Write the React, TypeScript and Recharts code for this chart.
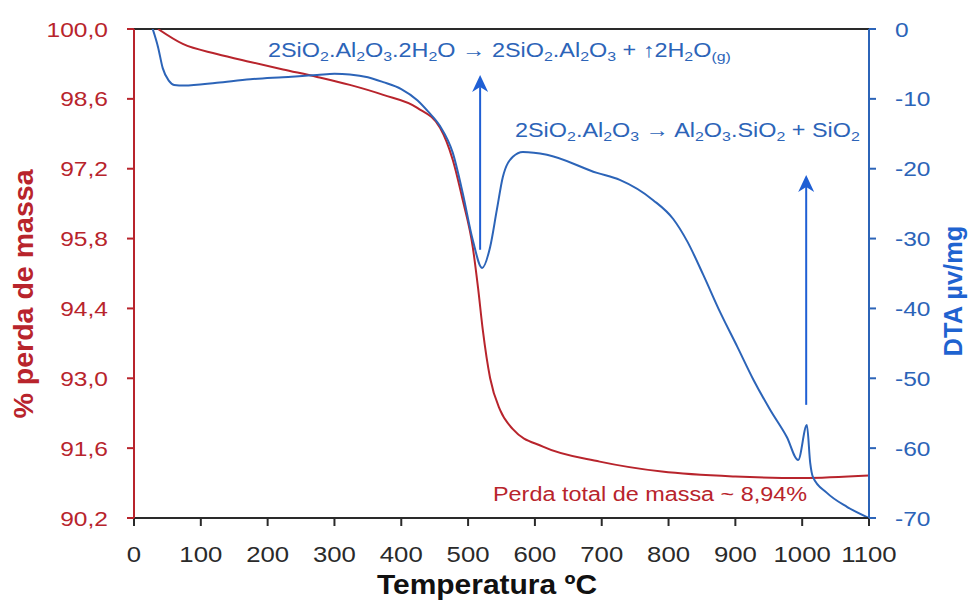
import React from "react";
import { ComposedChart, Line, XAxis, YAxis, ReferenceLine } from "recharts";

const RED = "#b8242c";
const BLUE = "#2c64b8";
const ARROW = "#1f5fd4";
const DARK = "#2a2a2a";
const SX = 1.17; // the original figure's lettering is a bit wide

const tempTicks = [0, 100, 200, 300, 400, 500, 600, 700, 800, 900, 1000, 1100];
const massTicks = [90.2, 91.6, 93.0, 94.4, 95.8, 97.2, 98.6, 100.0];
const dtaTicks = [-70, -60, -50, -40, -30, -20, -10, 0];

// TG curve: % mass vs temperature
const tgTemp = [36, 73, 124, 174, 223, 274, 323, 373, 424, 458, 477, 492, 507, 515, 522, 533, 548, 567, 612, 697, 790, 900, 1000, 1100];
const tgMass = [100.0, 99.7, 99.5, 99.34, 99.19, 99.04, 98.88, 98.68, 98.42, 98.02, 97.38, 96.57, 95.63, 94.8, 93.97, 93.0, 92.36, 91.98, 91.63, 91.33, 91.13, 91.03, 91.0, 91.05];

// DTA curve: µV/mg vs temperature
const dtaTemp = [28, 36, 43, 52, 60, 75, 124, 174, 223, 274, 300, 323, 350, 373, 400, 424, 440, 458, 477, 492, 507, 521, 533, 543, 552, 567, 582, 618, 693, 727, 777, 807, 828, 852, 877, 903, 927, 952, 977, 994, 1007, 1012, 1016, 1037, 1067, 1100];
const dtaSignal = [0, -2.6, -5.6, -7.4, -8.0, -8.1, -7.7, -7.2, -6.9, -6.6, -6.4, -6.5, -6.9, -7.6, -8.6, -10.2, -11.8, -13.9, -17.7, -23.5, -30.2, -34.2, -31.2, -25.9, -21.2, -18.3, -17.6, -18.0, -20.6, -21.6, -24.5, -27.2, -30.4, -35.2, -40.5, -45.5, -50.2, -54.5, -58.4, -61.7, -56.7, -62.1, -64.1, -66.4, -68.4, -70.0];

// annotation arrows (temperature, DTA from, DTA to)
const arrowTemp = [518, 1006];
const arrowFrom = [-31.6, -53.8];
const arrowTo = [-6.6, -20.9];

const tgData = tgTemp.map((t, i) => ({ t, v: tgMass[i] }));
const dtaData = dtaTemp.map((t, i) => ({ t, v: dtaSignal[i] }));

const fmtMass = (v: number) => v.toFixed(1).replace(".", ",");

function MassTick({ x, y, payload }: any) {
  return (
    <g transform={`translate(${x},${y})`}>
      <text transform={`scale(${SX},1)`} textAnchor="end" dy="0.36em" fontSize={21} fill={RED}>
        {fmtMass(payload.value)}
      </text>
    </g>
  );
}

function DtaTick({ x, y, payload }: any) {
  return (
    <g transform={`translate(${x},${y})`}>
      <text transform={`scale(${SX},1)`} textAnchor="start" dy="0.36em" fontSize={21} fill={BLUE}>
        {payload.value}
      </text>
    </g>
  );
}

function TempTick({ x, y, payload }: any) {
  return (
    <g transform={`translate(${x},${y})`}>
      <text transform={`scale(${SX},1)`} textAnchor="middle" dy={36} fontSize={22} fill={DARK}>
        {payload.value}
      </text>
    </g>
  );
}

function Arrow(props: any) {
  const { x1, y1, x2, y2 } = props;
  const x = (x1 + x2) / 2;
  const tip = Math.min(y1, y2);
  const base = Math.max(y1, y2);
  return (
    <g>
      <line x1={x} y1={base} x2={x} y2={tip + 12} stroke={ARROW} strokeWidth={2} />
      <polygon
        points={`${x},${tip} ${x - 8},${tip + 17} ${x},${tip + 12} ${x + 8},${tip + 17}`}
        fill={ARROW}
      />
    </g>
  );
}

const subStyle: React.CSSProperties = { fontSize: "0.68em", verticalAlign: "-0.3em", lineHeight: 0 };

function Note({ left, top, color, children }: any) {
  return (
    <div
      style={{
        position: "absolute",
        left,
        top,
        fontSize: 20,
        lineHeight: "20px",
        color,
        whiteSpace: "nowrap",
        transform: `scaleX(${SX})`,
        transformOrigin: "left center",
      }}
    >
      {children}
    </div>
  );
}

function Title({ cx, cy, color, rotate, size, stretch, children }: any) {
  return (
    <div
      style={{
        position: "absolute",
        left: cx,
        top: cy,
        fontSize: size,
        lineHeight: `${size}px`,
        fontWeight: "bold",
        color,
        whiteSpace: "nowrap",
        transform: `translate(-50%, -50%) rotate(${rotate}deg) scaleX(${stretch})`,
      }}
    >
      {children}
    </div>
  );
}

export default function App() {
  return (
    <div
      style={{
        position: "absolute",
        left: 0,
        top: 0,
        width: 971,
        height: 603,
        background: "#fff",
        fontFamily: '"Liberation Sans", Arial, sans-serif',
      }}
    >
      <ComposedChart width={971} height={603} margin={{ top: 29, right: 0, bottom: 0, left: 0 }}>
        <XAxis
          dataKey="t"
          type="number"
          domain={[0, 1100]}
          ticks={tempTicks}
          allowDataOverflow
          height={85}
          stroke={DARK}
          strokeWidth={2}
          tickSize={8}
          tickMargin={0}
          tick={<TempTick />}
        />
        <YAxis
          yAxisId="tg"
          domain={[90.2, 100]}
          ticks={massTicks}
          allowDataOverflow
          width={134}
          stroke={RED}
          strokeWidth={2}
          tickSize={7}
          tickMargin={19}
          tick={<MassTick />}
        />
        <YAxis
          yAxisId="dta"
          orientation="right"
          domain={[-70, 0]}
          ticks={dtaTicks}
          allowDataOverflow
          width={102}
          stroke={BLUE}
          strokeWidth={2}
          tickSize={7}
          tickMargin={19}
          tick={<DtaTick />}
        />
        <ReferenceLine yAxisId="tg" y={100} stroke={DARK} strokeWidth={2} />
        <Line
          yAxisId="tg"
          data={tgData}
          dataKey="v"
          type="monotone"
          stroke={RED}
          strokeWidth={2}
          dot={false}
          isAnimationActive={false}
        />
        <Line
          yAxisId="dta"
          data={dtaData}
          dataKey="v"
          type="monotone"
          stroke={BLUE}
          strokeWidth={2}
          dot={false}
          isAnimationActive={false}
        />
        {arrowTemp.map((t, i) => (
          <ReferenceLine
            key={t}
            yAxisId="dta"
            segment={[
              { x: t, y: arrowFrom[i] },
              { x: t, y: arrowTo[i] },
            ]}
            shape={Arrow}
          />
        ))}
      </ComposedChart>

      <Note left={268} top={40} color={BLUE}>
        2SiO<sub style={subStyle}>2</sub>.Al<sub style={subStyle}>2</sub>O<sub style={subStyle}>3</sub>.2H
        <sub style={subStyle}>2</sub>O → 2SiO<sub style={subStyle}>2</sub>.Al<sub style={subStyle}>2</sub>O
        <sub style={subStyle}>3</sub> + ↑2H<sub style={subStyle}>2</sub>O<sub style={subStyle}>(g)</sub>
      </Note>
      <Note left={515} top={120} color={BLUE}>
        2SiO<sub style={subStyle}>2</sub>.Al<sub style={subStyle}>2</sub>O<sub style={subStyle}>3</sub> → Al
        <sub style={subStyle}>2</sub>O<sub style={subStyle}>3</sub>.SiO<sub style={subStyle}>2</sub> + SiO
        <sub style={subStyle}>2</sub>
      </Note>
      <Note left={493} top={484} color={RED}>
        Perda total de massa ~ 8,94%
      </Note>

      <Title cx={24} cy={294} color={RED} rotate={-90} size={28} stretch={1.02}>
        % perda de massa
      </Title>
      <Title cx={953} cy={291} color="#1f63d0" rotate={-90} size={26} stretch={0.98}>
        DTA µv/mg
      </Title>
      <Title cx={487} cy={585} color="#111" rotate={0} size={28} stretch={1.07}>
        Temperatura ºC
      </Title>
    </div>
  );
}
